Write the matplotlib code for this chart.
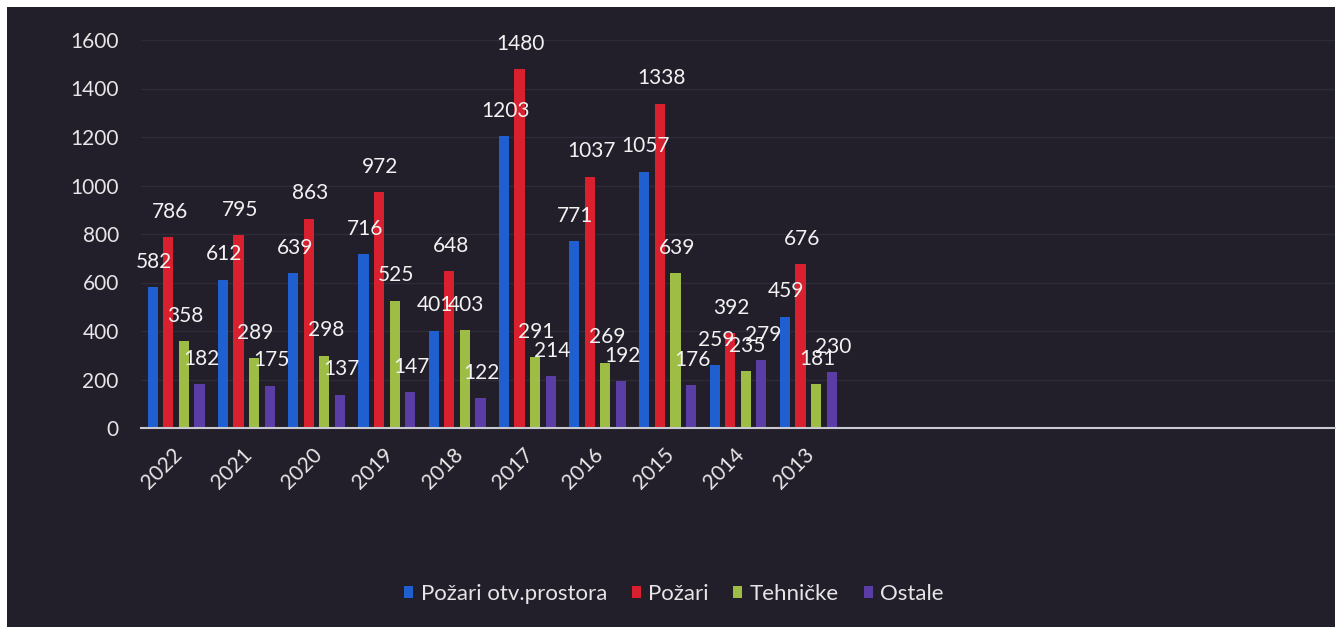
import matplotlib
matplotlib.use("Agg")
import matplotlib.pyplot as plt
import matplotlib.transforms as mtransforms
import numpy as np
from matplotlib.patches import Rectangle

years = ["2022", "2021", "2020", "2019", "2018", "2017", "2016", "2015", "2014", "2013"]
pozari_otv = [582, 612, 639, 716, 401, 1203, 771, 1057, 259, 459]
pozari = [786, 795, 863, 972, 648, 1480, 1037, 1338, 392, 676]
tehnicke = [358, 289, 298, 525, 403, 291, 269, 639, 235, 181]
ostale = [182, 175, 137, 147, 122, 214, 192, 176, 279, 230]
series_names = ["Požari otv.prostora", "Požari", "Tehničke", "Ostale"]
colors = ["#1f5fcf", "#d8202e", "#9ebd45", "#5a3ea6"]
n_slots = 17  # category slots on the axis (empty ones on the right)

plt.rcParams['font.family'] = ['Lato', 'DejaVu Sans']
W, H = 1343, 627
fig = plt.figure(figsize=(W / 100, H / 100), dpi=100, facecolor="white")
bg = "#221f2b"
fig.patches.append(Rectangle((7 / W, 0), (1335 - 7) / W, (627 - 7) / H,
                             transform=fig.transFigure, facecolor=bg,
                             edgecolor="none", zorder=-10))

ax = fig.add_axes([141 / W, (627 - 428) / H, (1335 - 141) / W, (428 - 40) / H])
ax.set_facecolor("none")

data = [pozari_otv, pozari, tehnicke, ostale]
x = np.arange(len(years))
step = 0.222
bw = 0.145
for i, (vals, c, name) in enumerate(zip(data, colors, series_names)):
    xs = x + (i - 1.5) * step
    ax.bar(xs, vals, width=bw, color=c, label=name, zorder=3)
    for xi, v in zip(xs, vals):
        ax.annotate(str(v), (xi, v), xytext=(1, 11), textcoords="offset points",
                    ha="center", va="bottom", color="#f2f2f2", fontsize=15, zorder=5)

ax.set_xlim(-0.5, n_slots - 0.5)
ax.set_ylim(0, 1600)
ax.set_yticks(range(0, 1601, 200))
ax.set_xticks(x)
ax.set_xticklabels(years, rotation=45, ha="right")
ax.tick_params(axis="both", length=0, colors="#e6e6e6", labelsize=15)
ax.tick_params(axis="y", pad=16)
ax.tick_params(axis="x", pad=12)
offset = mtransforms.ScaledTranslation(10 / 100, 0, fig.dpi_scale_trans)
for lbl in ax.get_xticklabels():
    lbl.set_transform(lbl.get_transform() + offset)
ax.grid(axis="y", color="#2e2b38", linewidth=1, zorder=0)
for s in ["top", "right", "left"]:
    ax.spines[s].set_visible(False)
ax.spines["bottom"].set_color("#c9c9d2")
ax.spines["bottom"].set_linewidth(1.5)
ax.spines["bottom"].set_zorder(4)

leg = fig.legend(loc="center", bbox_to_anchor=(674 / W, (627 - 594) / H), ncol=4,
                 frameon=False, fontsize=16, handlelength=0.4, handleheight=0.4,
                 handletextpad=0.35, columnspacing=1.1)
for t in leg.get_texts():
    t.set_color("#e6e6e6")

fig.savefig("out.png", dpi=100, facecolor="white")
